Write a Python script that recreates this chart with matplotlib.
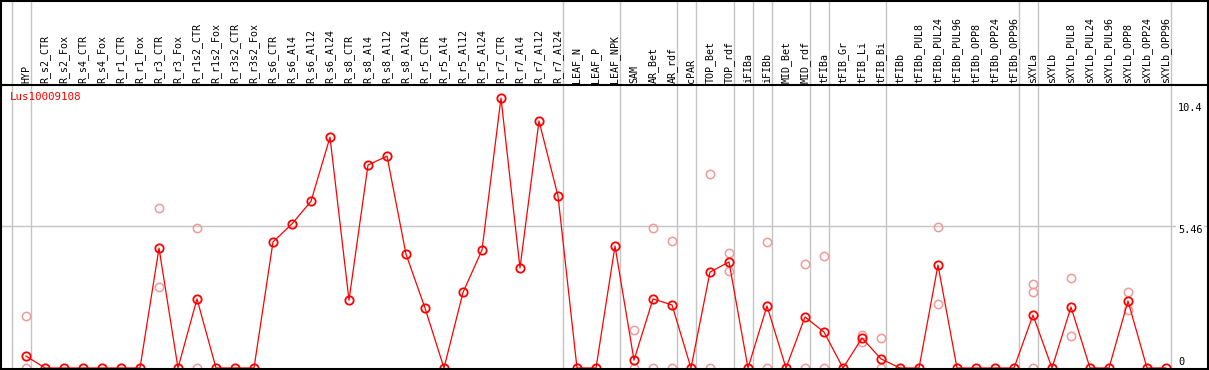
import numpy as np
import matplotlib.pyplot as plt

gene = "Lus10009108"

labels = ["HYP", "R_s2_CTR", "R_s2_Fox", "R_s4_CTR", "R_s4_Fox", "R_r1_CTR", "R_r1_Fox",
          "R_r3_CTR", "R_r3_Fox", "R_r1s2_CTR", "R_r1s2_Fox", "R_r3s2_CTR", "R_r3s2_Fox",
          "R_s6_CTR", "R_s6_Al4", "R_s6_Al12", "R_s6_Al24", "R_s8_CTR", "R_s8_Al4",
          "R_s8_Al12", "R_s8_Al24", "R_r5_CTR", "R_r5_Al4", "R_r5_Al12", "R_r5_Al24",
          "R_r7_CTR", "R_r7_Al4", "R_r7_Al12", "R_r7_Al24", "LEAF_N", "LEAF_P", "LEAF_NPK",
          "SAM", "AR_Bet", "AR_rdf", "cPAR", "TOP_Bet", "TOP_rdf", "iFIBa", "iFIBb",
          "MID_Bet", "MID_rdf", "tFIBa", "tFIB_Gr", "tFIB_Li", "tFIB_Bi", "tFIBb",
          "tFIBb_PUL8", "tFIBb_PUL24", "tFIBb_PUL96", "tFIBb_OPP8", "tFIBb_OPP24",
          "tFIBb_OPP96", "sXYLa", "sXYLb", "sXYLb_PUL8", "sXYLb_PUL24", "sXYLb_PUL96",
          "sXYLb_OPP8", "sXYLb_OPP24", "sXYLb_OPP96"]

means = [0.46, 0, 0, 0, 0, 0, 0, 4.6, 0, 2.65, 0, 0, 0,
         4.84, 5.53, 6.4, 8.86, 2.6, 7.79, 8.13, 4.37, 2.3, 0, 2.9, 4.53,
         10.36, 3.84, 9.48, 6.6, 0, 0, 4.68,
         0.3, 2.65, 2.42, 0, 3.68, 4.07, 0, 2.38,
         0, 1.96, 1.38, 0, 1.15, 0.35, 0,
         0, 3.95, 0, 0, 0, 0,
         2.03, 0, 2.34, 0, 0, 2.57, 0, 0]

# individual replicates (category index, value)
rep_idx = [0, 0, 7, 7, 9, 9, 32, 32, 33, 33, 34, 34, 36, 36, 37, 37,
           39, 39, 41, 41, 42, 42, 44, 44, 45, 45, 48, 48, 53, 53, 53,
           55, 55, 58, 58]
rep_val = [2.0, 0, 6.14, 3.11, 5.37, 0, 1.46, 0, 5.37, 0, 4.87, 0, 7.44, 0, 4.41, 3.72,
           4.84, 0, 3.99, 0, 4.3, 0, 1.27, 1.0, 1.15, 0, 5.41, 2.45, 3.22, 2.9, 0,
           3.45, 1.23, 2.9, 2.22]

ymax = 10.4
ymid = 5.46
group_ends = [-1, 0, 28, 31, 34, 35, 37, 38, 39, 41, 42, 45, 52, 53, 60]

W, H = 1209, 370
fig = plt.figure(figsize=(W / 100, H / 100), dpi=100)
ax = fig.add_axes([0, 0, 1, 1])
ax.axis("off")

# pixel layout: category i sits at 26 + 19*i px, value 0 at 368 px from top
step = 19.0
x0 = 26.0
ppu = 271.0 / ymax
ax.set_xlim(-x0 / step, (W - x0) / step)
ax.set_ylim(-2 / ppu, 368 / ppu)

xt = ax.get_xaxis_transform()
yt = ax.get_yaxis_transform()

gray = "#c4c4c4"
for g in group_ends:
    ax.axvline(g + 0.24, color=gray, lw=1.0, zorder=1)
ax.axhline(ymid, color=gray, lw=1.0, zorder=1)

x = np.arange(len(labels))
ax.plot(rep_idx, rep_val, ls="none", marker="o", ms=6.0, mfc="none",
        mec="#f09a9a", mew=1.1, zorder=2)
ax.plot(x, means, color="red", lw=0.9, marker="o", ms=6.0, mfc="none",
        mec="red", mew=1.3, zorder=3)

for i, lab in enumerate(labels):
    ax.text(i, 1 - 83 / H, lab, transform=xt, rotation=90, ha="center", va="bottom",
            fontsize=7.2, family="DejaVu Sans Mono", color="black")

ax.text(10 / W, 1 - 97 / H, gene, transform=ax.transAxes, ha="left", va="center",
        fontsize=7.8, family="DejaVu Sans Mono", color="red")

for val, off in [(ymax, -11), (ymid, -4), (0, 6)]:
    ax.annotate(f"{val:g}", xy=(1178 / W, val), xycoords=yt, xytext=(0, off),
                textcoords="offset pixels", ha="left", va="center", fontsize=7.4,
                family="DejaVu Sans Mono", color="black", zorder=4,
                bbox=dict(boxstyle="square,pad=0.15", fc="white", ec="none"))

# frame
k = dict(color="black", lw=1.5, zorder=5)
ax.plot([0, 1], [1 - 1 / H, 1 - 1 / H], transform=ax.transAxes, **k)
ax.plot([0, 1], [1 - 85 / H, 1 - 85 / H], transform=ax.transAxes, **k)
ax.plot([0, 1], [1.5 / H, 1.5 / H], transform=ax.transAxes, **k)
ax.plot([1 / W, 1 / W], [0, 1], transform=ax.transAxes, **k)
ax.plot([1 - 1.5 / W, 1 - 1.5 / W], [0, 1], transform=ax.transAxes, **k)

fig.savefig("out.png", dpi=100)
